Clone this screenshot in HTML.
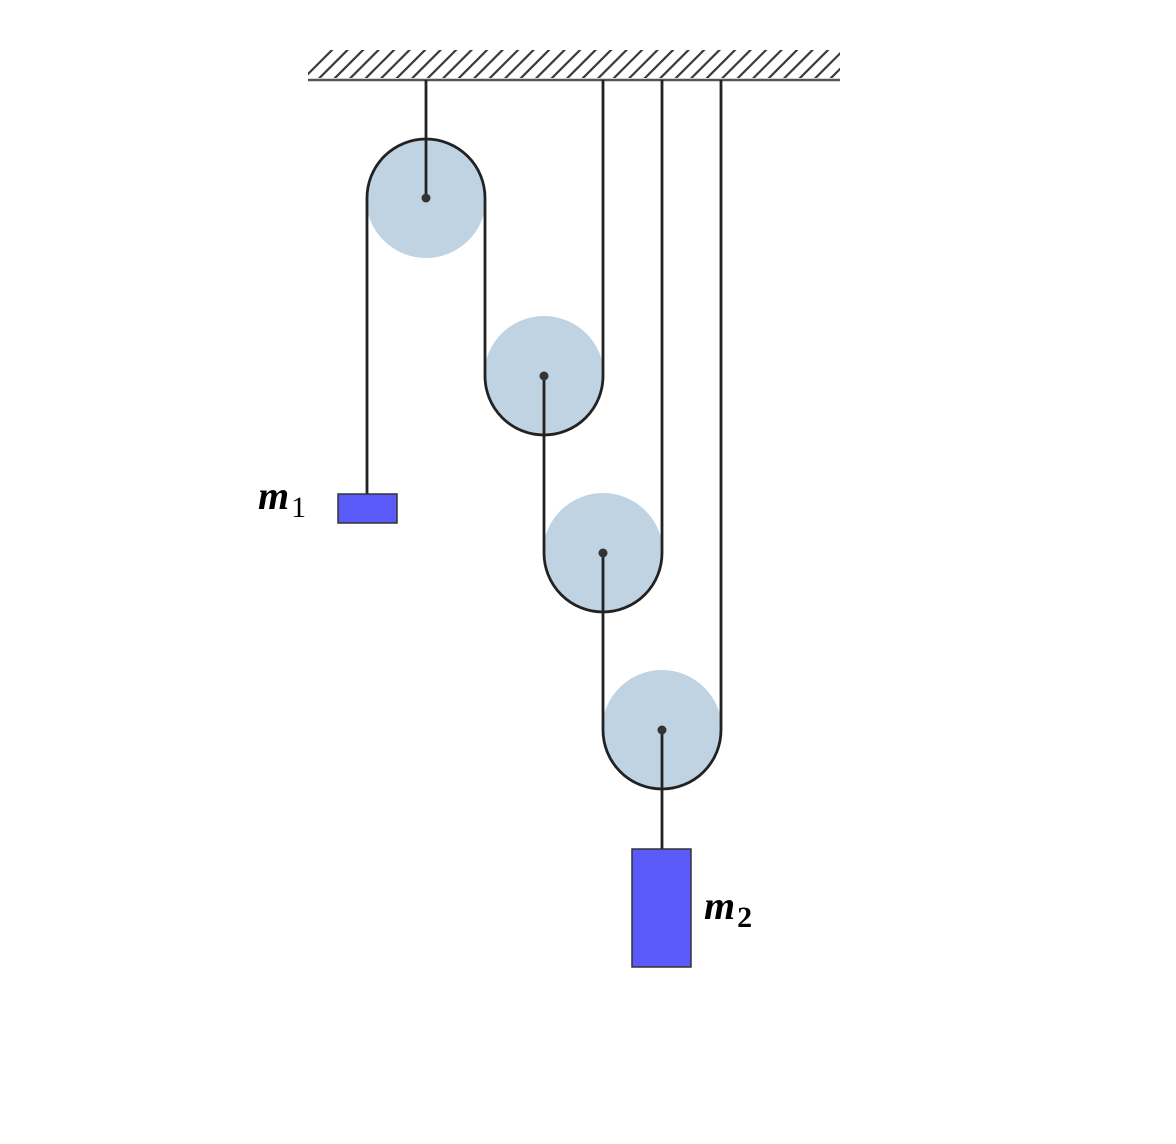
<!DOCTYPE html>
<html><head><meta charset="utf-8"><style>html,body{margin:0;padding:0;background:#fff;}</style></head>
<body>
<svg width="1176" height="1139" viewBox="0 0 1176 1139" xmlns="http://www.w3.org/2000/svg">
<defs>
<clipPath id="hc"><rect x="308" y="50" width="532" height="28"/></clipPath>
</defs>
<g clip-path="url(#hc)" stroke="#3a3a3a" stroke-width="2.2" fill="none">
<path d="M298,84 l36,-36 M313.5,84 l36,-36 M329,84 l36,-36 M344.5,84 l36,-36 M360,84 l36,-36 M375.5,84 l36,-36 M391,84 l36,-36 M406.5,84 l36,-36 M422,84 l36,-36 M437.5,84 l36,-36 M453,84 l36,-36 M468.5,84 l36,-36 M484,84 l36,-36 M499.5,84 l36,-36 M515,84 l36,-36 M530.5,84 l36,-36 M546,84 l36,-36 M561.5,84 l36,-36 M577,84 l36,-36 M592.5,84 l36,-36 M608,84 l36,-36 M623.5,84 l36,-36 M639,84 l36,-36 M654.5,84 l36,-36 M670,84 l36,-36 M685.5,84 l36,-36 M701,84 l36,-36 M716.5,84 l36,-36 M732,84 l36,-36 M747.5,84 l36,-36 M763,84 l36,-36 M778.5,84 l36,-36 M794,84 l36,-36 M809.5,84 l36,-36 M825,84 l36,-36"/>
</g>
<line x1="308" y1="80" x2="840" y2="80" stroke="#555" stroke-width="2.5"/>
<g fill="#c0d3e3">
<circle cx="426" cy="198" r="60"/>
<circle cx="544" cy="376" r="60"/>
<circle cx="603" cy="553" r="60"/>
<circle cx="662" cy="730" r="60"/>
</g>
<g stroke="#222" stroke-width="2.8" fill="none">
<line x1="426" y1="80" x2="426" y2="198"/>
<path d="M367,494 L367,198 A59,59 0 0 1 485,198 L485,376 A59,59 0 0 0 603,376 L603,80"/>
<path d="M544,376 L544,553 A59,59 0 0 0 662,553 L662,80"/>
<path d="M603,553 L603,730 A59,59 0 0 0 721,730 L721,80"/>
<line x1="662" y1="730" x2="662" y2="849"/>
</g>
<g fill="#333">
<circle cx="426" cy="198" r="4.5"/>
<circle cx="544" cy="376" r="4.5"/>
<circle cx="603" cy="553" r="4.5"/>
<circle cx="662" cy="730" r="4.5"/>
</g>
<rect x="338" y="494" width="59" height="29" fill="#5a5af8" stroke="#333" stroke-width="1.5"/>
<rect x="632" y="849" width="59" height="118" fill="#5a5af8" stroke="#333" stroke-width="1.5"/>
<text x="258" y="509" font-family="Liberation Serif, serif" font-style="italic" font-weight="bold" font-size="40">m<tspan font-style="normal" font-weight="normal" font-size="30" dx="2" dy="8">1</tspan></text>
<text x="704" y="919" font-family="Liberation Serif, serif" font-style="italic" font-weight="bold" font-size="40">m<tspan font-style="normal" font-weight="bold" font-size="30" dx="2" dy="8">2</tspan></text>
</svg>
</body></html>
